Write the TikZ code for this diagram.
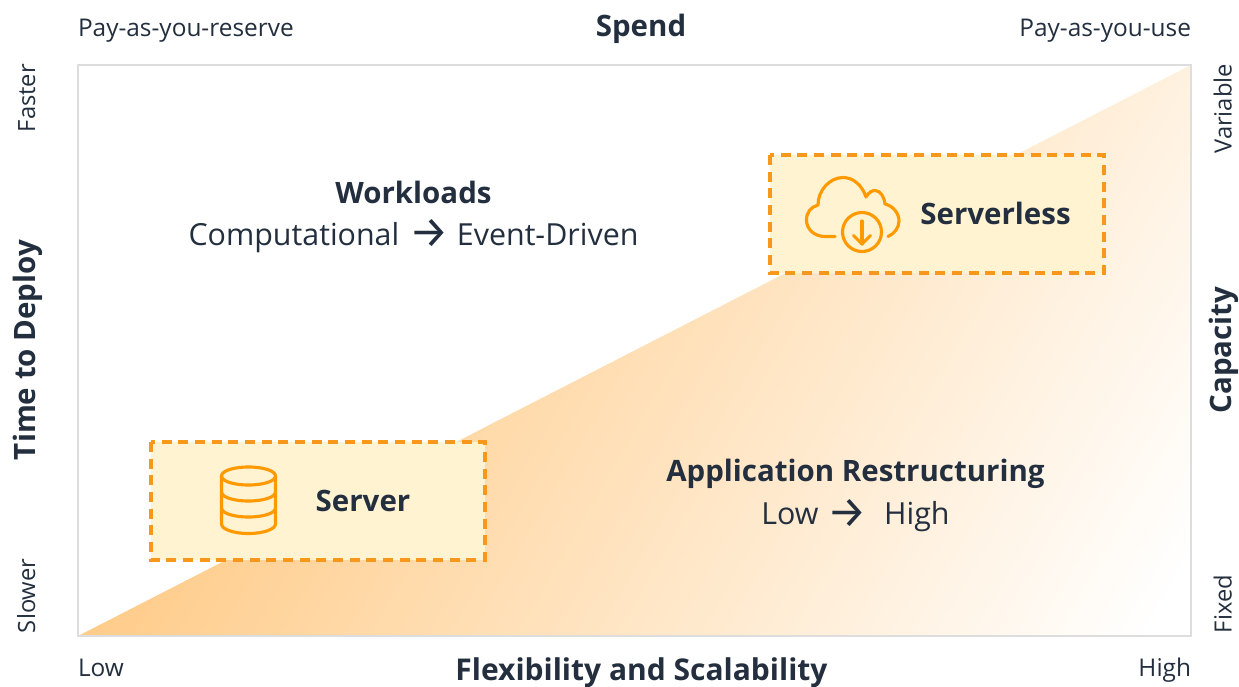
\documentclass[tikz,border=0pt]{standalone}
\usepackage{fontspec}
\setmainfont{Open Sans}
\newfontfamily\arrowfont{Fira Sans}
\usetikzlibrary{shadings}
\definecolor{ink}{HTML}{232F3E}
\definecolor{frameg}{HTML}{DDDDDD}
\definecolor{orng}{HTML}{FF9900}
\definecolor{dashor}{HTML}{F7981D}
\definecolor{boxfill}{HTML}{FFF3D2}
\definecolor{grad}{HTML}{FFCC8A}
\pgfdeclarehorizontalshading{wedge}{100bp}{color(0bp)=(grad); color(38.375bp)=(grad); color(61.625bp)=(white); color(100bp)=(white)}
\newcommand{\arr}{\raisebox{-2.2pt}{\arrowfont\fontsize{33pt}{33pt}\selectfont →}}
\tikzset{x=0.75pt,y=-0.75pt,
 lab/.style={text=ink,font=\fontsize{18.3pt}{22pt}\selectfont,inner sep=0pt,outer sep=0pt},
 vlab/.style={text=ink,font=\fontsize{17.8pt}{22pt}\selectfont,inner sep=0pt,outer sep=0pt,rotate=90},
 head/.style={text=ink,font=\fontsize{22.1pt}{26pt}\selectfont\bfseries,inner sep=0pt,outer sep=0pt,anchor=base},
 body/.style={text=ink,font=\fontsize{22.8pt}{26pt}\selectfont,inner sep=0pt,outer sep=0pt,anchor=base},
 dashbox/.style={draw=dashor,line width=2.35pt,fill=boxfill,dash pattern=on 7.5pt off 5pt},
 icon/.style={draw=orng,line width=2.35pt,line cap=round,line join=round}}
\begin{document}
\begin{tikzpicture}
\useasboundingbox (0,0) rectangle (1239,686);
\fill[white] (0,0) rectangle (1239,686);
\begin{scope}
\clip (78,636) -- (1191,65) -- (1191,636) -- cycle;
\shade[shading=wedge,shading angle=-30] (-519,-131) rectangle (1481,1869);
\end{scope}
\draw[frameg,line width=1.6pt] (78,65) rectangle (1191,636);
\path[dashbox] (151,442) rectangle (485,560);
\path[dashbox] (770,155) rectangle (1104,273);
\node[head] (server) at (363,511) {Server};
\node[head] (serverless) at (995.5,224) {Serverless};
\node[head] (workloads) at (413.5,203) {Workloads};
\node[body] (comp) at (413.5,245) {Computational\hspace{7.5pt}\arr\hspace{6pt}Event-Driven};
\node[head] (apprest) at (855.5,481) {Application Restructuring};
\node[body] (lh) at (855.5,524.5) {Low\hspace{7pt}\arr\hspace{12.5pt}High};
\node[head] (spend) at (641,36) {Spend};
\node[head,font=\fontsize{22.5pt}{26pt}\selectfont\bfseries] (flex) at (641.5,680) {Flexibility and Scalability};
\node[lab,anchor=base west] (reserve) at (78,36.5) {Pay-as-you-reserve};
\node[lab,anchor=base east] (use) at (1191,36.5) {Pay-as-you-use};
\node[lab,anchor=base west] (low) at (78,676) {Low};
\node[lab,anchor=base east] (high) at (1191,676) {High};
\node[head,rotate=90] (ttd) at (35,350) {Time to Deploy};
\node[head,rotate=90] (cap) at (1231,350) {Capacity};
\node[vlab,anchor=base east] (faster) at (35,64) {Faster};
\node[vlab,anchor=base west] (slower) at (35,633) {Slower};
\node[vlab,anchor=base east] (variable) at (1231.5,64) {Variable};
\node[vlab,anchor=base west] (fixed) at (1231.5,633) {Fixed};
% database icon
\draw[icon] (248.5,467) .. controls (233,467) and (221.5,471) .. (221.5,476) .. controls (221.5,481) and (233,485) .. (248.5,485) .. controls (264,485) and (275.5,481) .. (275.5,476) .. controls (275.5,471) and (264,467) .. (248.5,467) -- cycle;
\draw[icon] (221.5,476) -- (221.5,524) .. controls (221.5,529) and (233,533.5) .. (248.5,533.5) .. controls (264,533.5) and (275.5,529) .. (275.5,524) -- (275.5,476);
\draw[icon] (221.5,492) .. controls (221.5,497) and (233,501) .. (248.5,501) .. controls (264,501) and (275.5,497) .. (275.5,492);
\draw[icon] (221.5,508) .. controls (221.5,513) and (233,517) .. (248.5,517) .. controls (264,517) and (275.5,513) .. (275.5,508);
% cloud icon
\draw[icon] (835,236.5) -- (825,236.5) .. controls (814,236.5) and (806.5,229) .. (806.5,220) .. controls (806.5,212) and (811,207) .. (818,205) .. controls (818,190) and (830,177.5) .. (843,177.5) .. controls (853,177.5) and (862,185) .. (866,197) .. controls (869,192) and (872,190.5) .. (875,190.5) .. controls (880,190.5) and (884,196) .. (885,204) .. controls (893,206) and (899,213) .. (899,221) .. controls (899,228) and (894,234) .. (888,236.5);
\draw[icon] (862,232) circle (19.5);
\draw[icon] (862,221) -- (862,244);
\draw[icon] (853.5,235.5) -- (862,244) -- (870.5,235.5);
\end{tikzpicture}
\end{document}
